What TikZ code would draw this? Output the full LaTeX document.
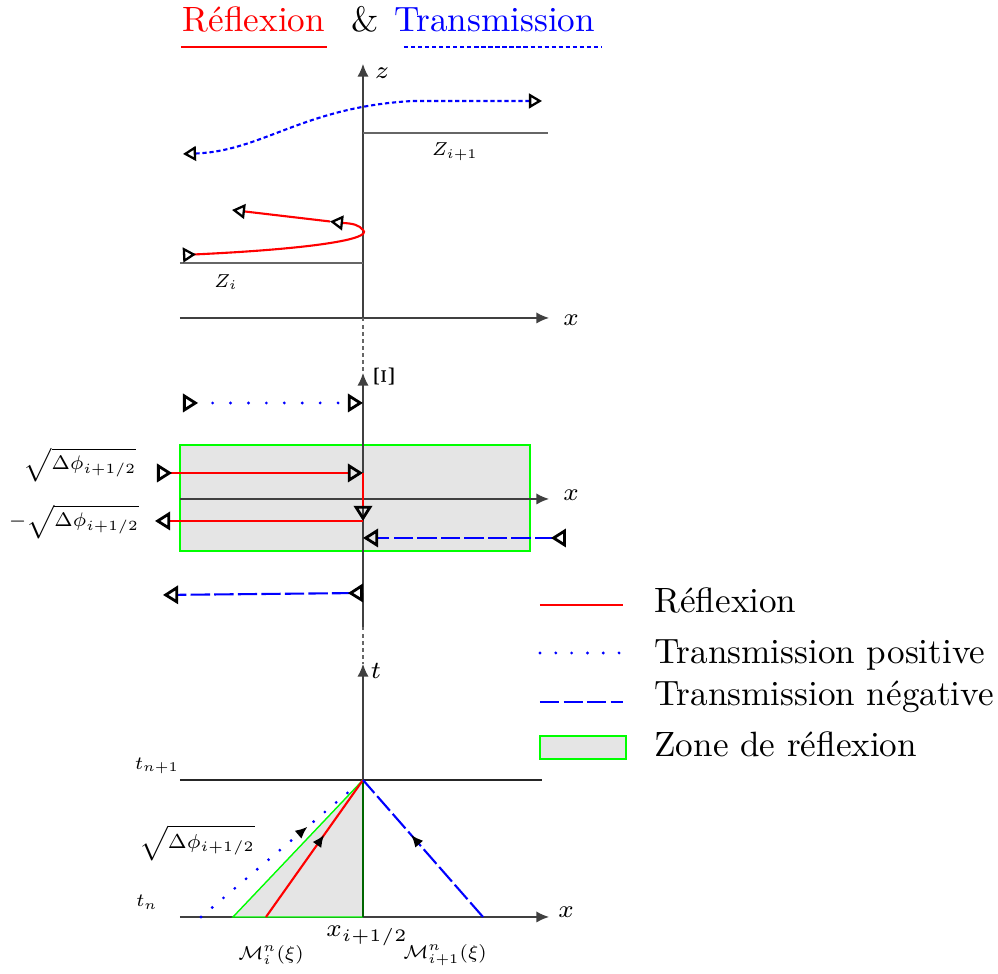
\documentclass[tikz,border=0pt]{standalone}
\usetikzlibrary{arrows.meta,decorations.markings,positioning}

\tikzset{
  petit/.tip={Triangle[open,length=3.7pt,width=4.2pt,line width=0.65pt,color=black]},
  petitr/.tip={Triangle[open,reversed,length=3.7pt,width=4.2pt,line width=0.65pt,color=black]},
  grand/.tip={Triangle[open,length=4.3pt,width=5.2pt,line width=0.8pt,color=black]},
  grandr/.tip={Triangle[open,reversed,length=4.3pt,width=5.2pt,line width=0.8pt,color=black]},
  axe/.style={black!75,-{Latex[length=3.6pt,width=3.2pt]}},
  lien/.style={black!60,dash pattern=on 1pt off 1pt},
  niveau/.style={black!60},
  lbl/.style={font=\scriptsize},
  lblp/.style={font=\scriptsize,scale=0.76},
  refl/.style={red,semithick},
  tpos/.style={blue,line width=0.9pt,line cap=round,dash pattern=on 0pt off #1},
  tpos/.default=5.1pt,
  tneg/.style={blue,semithick,dash pattern=on 5.5pt off 1.2pt},
  tfine/.style={blue,semithick,dash pattern=on 1.2pt off 0.8pt},
  zone/.style={fill=gray!20,draw=green},
  fleche/.style={postaction={decorate},decoration={markings,
    mark=at position #1 with {\arrow[black]{Latex[length=3.5pt,width=3pt]}}}},
}

\begin{document}
\begin{tikzpicture}
\useasboundingbox (-3.63,-0.57) rectangle (6.35,9.17);

% titre
\node[red,anchor=base] (tR) at (-1.09,8.85) {Réflexion};
\node[anchor=base] (tEt) at (0.02,8.85) {\&};
\node[blue,anchor=base] (tT) at (1.315,8.85) {Transmission};
\coordinate (sR1) at (-1.82,8.70);
\coordinate (sR2) at (-0.36,8.70);
\coordinate (sT1) at (0.41,8.70);
\coordinate (sT2) at (2.38,8.70);
\draw[red,semithick] (sR1) -- (sR2);
\draw[tfine] (sT1) -- (sT2);

% plan (x,z)
\coordinate (O1) at (0,5.99);
\coordinate (x1a) at (-1.83,5.99);
\coordinate (x1b) at (1.86,5.99);
\coordinate (z1) at (0,8.53);
\coordinate (Zh1) at (0,7.84);
\coordinate (Zh2) at (1.85,7.84);
\coordinate (Zb1) at (-1.83,6.54);
\coordinate (Zb2) at (0,6.54);
\coordinate (bA) at (-1.80,7.63);
\coordinate (bB) at (0.5,8.16);
\coordinate (bC) at (1.79,8.16);
\coordinate (rA) at (-1.80,6.62);
\coordinate (rB) at (0,6.87);
\coordinate (rC) at (-0.2,6.94);
\coordinate (rD) at (-0.33,6.955);
\coordinate (rE) at (-1.31,7.07);

\draw[axe] (x1a) -- (x1b);
\draw[axe] (O1) -- (z1);
\draw[niveau] (Zh1) -- (Zh2);
\draw[niveau] (Zb1) -- (Zb2);
\node[lbl] (lx1) at (2.08,5.97) {$x$};
\node[lbl] (lz1) at (0.19,8.44) {$z$};
\node[lblp] (lZh) at (0.92,7.65) {$Z_{i+1}$};
\node[lblp] (lZb) at (-1.37,6.35) {$Z_i$};

\draw[tfine,{petit}-{petit}] (bA) .. controls (-1.0,7.66) and (-0.6,8.1) .. (bB) -- (bC);
\draw[refl,{petitr}-{petit}] (rA) .. controls (-0.5,6.68) and (0.1,6.78) .. (rB)
  .. controls (-0.04,6.92) and (-0.1,6.935) .. (rC) -- (rD);
\draw[refl,-{petit}] (rD) -- (rE);

% plan (x,Xi)
\coordinate (O2) at (0,4.18);
\coordinate (x2a) at (-1.83,4.18);
\coordinate (x2b) at (1.86,4.18);
\coordinate (Xb) at (0,2.90);
\coordinate (Xh) at (0,5.44);
\coordinate (zA) at (-1.83,4.72);
\coordinate (zB) at (1.67,3.66);
\coordinate (pA) at (-1.80,5.14);
\coordinate (pB) at (0,5.14);
\coordinate (mA) at (-2.06,4.44);
\coordinate (mB) at (0,4.44);
\coordinate (mC) at (0,3.96);
\coordinate (mD) at (-2.08,3.96);
\coordinate (nA) at (2.03,3.79);
\coordinate (nB) at (0,3.79);
\coordinate (nC) at (0,3.24);
\coordinate (nD) at (-2.00,3.22);

\draw[zone] (zA) rectangle (zB);
\draw[axe] (x2a) -- (x2b);
\draw[axe] (Xb) -- (Xh);
\draw[lien] (O1) -- (Xh);
\node[lbl] (lx2) at (2.08,4.22) {$x$};
\node[font=\footnotesize,rotate=90] (lXi) at (0.21,5.40) {$\Xi$};
\node[lblp,scale=1.05] (lsp) at (-2.83,4.52) {$\sqrt{\Delta\phi_{i+1/2}}$};
\node[lblp,scale=1.05] (lsm) at (-2.89,3.95) {$-\sqrt{\Delta\phi_{i+1/2}}$};

\draw[tpos,{grandr}-{grand}] (pA) -- (pB);
\draw[refl,{grandr}-{grand}] (mA) -- (mB);
\draw[refl,-{grand}] (mB) -- (mC);
\draw[refl,-{grand}] (mC) -- (mD);
\draw[tneg,{grandr}-{grand}] (nA) -- (nB);
\draw[tneg,{grandr}-{grand}] (nC) -- (nD);

% plan (x,t)
\coordinate (O3) at (0,0);
\coordinate (x3a) at (-1.83,0);
\coordinate (x3b) at (1.86,0);
\coordinate (t3) at (0,2.53);
\coordinate (h1) at (-1.83,1.37);
\coordinate (h2) at (1.79,1.37);
\coordinate (A) at (-1.30,0);
\coordinate (B) at (0,1.37);
\coordinate (R0) at (-0.97,0);
\coordinate (P0) at (-1.62,0);
\coordinate (P1) at (-0.05,1.33);
\coordinate (N0) at (1.20,0);

\draw[lien] (Xb) -- (t3);
\draw[axe] (x3a) -- (x3b);
\draw[axe] (O3) -- (t3);
\draw[black!85] (h1) -- (h2);
\fill[gray!20] (A) -- (B) -- (O3) -- cycle;
\draw[green] (O3) -- (A) -- (B);
\draw[green!40!black] (B) -- (O3);
\draw[refl,fleche=0.6] (R0) -- (B);
\draw[tpos=4.2pt,fleche=0.68] (P0) -- (P1);
\draw[tneg,fleche=0.6] (N0) -- (B);

\node[lbl] (lt3) at (0.13,2.46) {$t$};
\node[lbl] (lx3) at (2.03,0.05) {$x$};
\node[lblp] (ltn1) at (-2.06,1.51) {$t_{n+1}$};
\node[lblp] (ltn) at (-2.16,0.15) {$t_n$};
\node[lblp,scale=1.08] (lsq) at (-1.66,0.74) {$\sqrt{\Delta\phi_{i+1/2}}$};
\node[lbl] (lxi) at (0.04,-0.19) {$x_{i+1/2}$};
\node[lblp] (lMi) at (-0.92,-0.38) {$\mathcal{M}_i^n(\xi)$};
\node[lblp] (lMj) at (0.82,-0.38) {$\mathcal{M}_{i+1}^n(\xi)$};

% legende
\coordinate (g1a) at (1.77,3.12);
\coordinate (g1b) at (2.60,3.12);
\coordinate (g2a) at (1.77,2.64);
\coordinate (g2b) at (2.60,2.64);
\coordinate (g3a) at (1.77,2.15);
\coordinate (g3b) at (2.60,2.15);
\coordinate (g4a) at (1.77,1.81);
\coordinate (g4b) at (2.63,1.58);
\draw[refl] (g1a) -- (g1b);
\draw[tpos=4.5pt] (g2a) -- (g2b);
\draw[tneg] (g3a) -- (g3b);
\draw[zone] (g4a) rectangle (g4b);
\node[anchor=base west] (gt1) at (2.79,3.04) {Réflexion};
\node[anchor=base west] (gt2) at (2.79,2.53) {Transmission positive};
\node[anchor=base west] (gt3) at (2.79,2.11) {Transmission négative};
\node[anchor=base west] (gt4) at (2.79,1.60) {Zone de réflexion};
\end{tikzpicture}
\end{document}
